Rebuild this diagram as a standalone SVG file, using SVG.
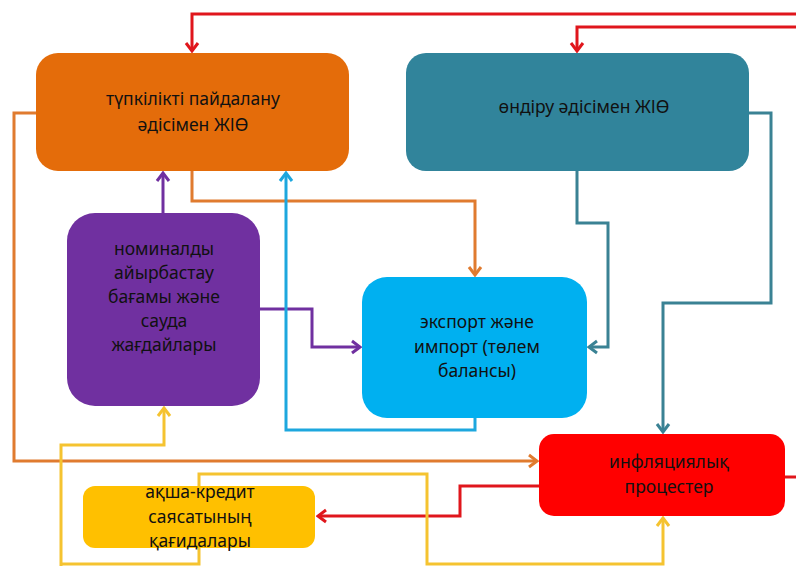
<svg xmlns="http://www.w3.org/2000/svg" width="796" height="566" viewBox="0 0 796 566">
<style>
.t{font-family:"Noto Sans","Open Sans",sans-serif;font-size:17.5px;fill:#111;text-anchor:middle}
.c{fill:none;stroke-width:3;stroke-linejoin:miter}
</style>
<defs>
<marker id="aR" viewBox="-10 -8 12 16" refX="0" refY="0" markerWidth="12" markerHeight="16" markerUnits="userSpaceOnUse" orient="auto"><path d="M-8,-6 L0,0 L-8,6" fill="none" stroke="#E0161C" stroke-width="3"/></marker>
<marker id="aO" viewBox="-10 -8 12 16" refX="0" refY="0" markerWidth="12" markerHeight="16" markerUnits="userSpaceOnUse" orient="auto"><path d="M-8,-6 L0,0 L-8,6" fill="none" stroke="#E07B2F" stroke-width="3"/></marker>
<marker id="aP" viewBox="-10 -8 12 16" refX="0" refY="0" markerWidth="12" markerHeight="16" markerUnits="userSpaceOnUse" orient="auto"><path d="M-8,-6 L0,0 L-8,6" fill="none" stroke="#7030A0" stroke-width="3"/></marker>
<marker id="aB" viewBox="-10 -8 12 16" refX="0" refY="0" markerWidth="12" markerHeight="16" markerUnits="userSpaceOnUse" orient="auto"><path d="M-8,-6 L0,0 L-8,6" fill="none" stroke="#1DA7DE" stroke-width="3"/></marker>
<marker id="aT" viewBox="-10 -8 12 16" refX="0" refY="0" markerWidth="12" markerHeight="16" markerUnits="userSpaceOnUse" orient="auto"><path d="M-8,-6 L0,0 L-8,6" fill="none" stroke="#3A8294" stroke-width="3"/></marker>
<marker id="aY" viewBox="-10 -8 12 16" refX="0" refY="0" markerWidth="12" markerHeight="16" markerUnits="userSpaceOnUse" orient="auto"><path d="M-8,-6 L0,0 L-8,6" fill="none" stroke="#F5C330" stroke-width="3"/></marker>
</defs>
<rect width="796" height="566" fill="#fff"/>
<g id="connectors">
<path class="c" stroke="#E0161C" d="M796,14 H192 V51" marker-end="url(#aR)"/>
<path class="c" stroke="#E0161C" d="M796,27 H577 V51" marker-end="url(#aR)"/>
<path class="c" stroke="#E0161C" d="M785,477 H796"/>
<path class="c" stroke="#E0161C" d="M539,486 H460 V516 H318" marker-end="url(#aR)"/>
<path class="c" stroke="#E07B2F" d="M36,113 H14 V461 H537" marker-end="url(#aO)"/>
<path class="c" stroke="#E07B2F" d="M192,171 V201 H475 V275" marker-end="url(#aO)"/>
<path class="c" stroke="#7030A0" d="M163,213 V173" marker-end="url(#aP)"/>
<path class="c" stroke="#7030A0" d="M260,309 H312 V347 H360" marker-end="url(#aP)"/>
<path class="c" stroke="#1DA7DE" d="M475,418 V430 H286 V173" marker-end="url(#aB)"/>
<path class="c" stroke="#3A8294" d="M577,171 V223 H608 V347 H589" marker-end="url(#aT)"/>
<path class="c" stroke="#3A8294" d="M749,113 H771 V303 H663 V432" marker-end="url(#aT)"/>
<path class="c" stroke="#F5C330" d="M61,566 V445 H164 V408" marker-end="url(#aY)"/>
<path class="c" stroke="#F5C330" d="M61,564 H199 V474 H427 V564 H663 V518" marker-end="url(#aY)"/>
</g>
<g id="n-final-use">
<rect x="36" y="53" width="313" height="118" rx="22" fill="#E46C0A"/>
<text class="t" x="193" y="105">түпкілікті пайдалану</text>
<text class="t" x="193" y="131">әдісімен ЖІӨ</text>
</g>
<g id="n-production">
<rect x="406" y="53" width="343" height="118" rx="20" fill="#31849B"/>
<text class="t" x="584" y="113">өндіру әдісімен ЖІӨ</text>
</g>
<g id="n-exchange">
<rect x="67" y="213" width="193" height="193" rx="28" fill="#7030A0"/>
<text class="t" x="164" y="255">номиналды</text>
<text class="t" x="164" y="279">айырбастау</text>
<text class="t" x="164" y="303">бағамы және</text>
<text class="t" x="164" y="327">сауда</text>
<text class="t" x="164" y="351">жағдайлары</text>
</g>
<g id="n-export">
<rect x="362" y="277" width="225" height="141" rx="25" fill="#00B0F0"/>
<text class="t" x="477" y="328">экспорт және</text>
<text class="t" x="477" y="353">импорт (төлем</text>
<text class="t" x="477" y="377">балансы)</text>
</g>
<g id="n-inflation">
<rect x="539" y="434" width="246" height="82" rx="15" fill="#FF0000"/>
<text class="t" x="669" y="468">инфляциялық</text>
<text class="t" x="669" y="493">процестер</text>
</g>
<g id="n-monetary">
<rect x="83" y="486" width="232" height="62" rx="12" fill="#FFC000"/>
<text class="t" x="200" y="498">ақша-кредит</text>
<text class="t" x="200" y="523">саясатының</text>
<text class="t" x="200" y="547">қағидалары</text>
</g>
</svg>
